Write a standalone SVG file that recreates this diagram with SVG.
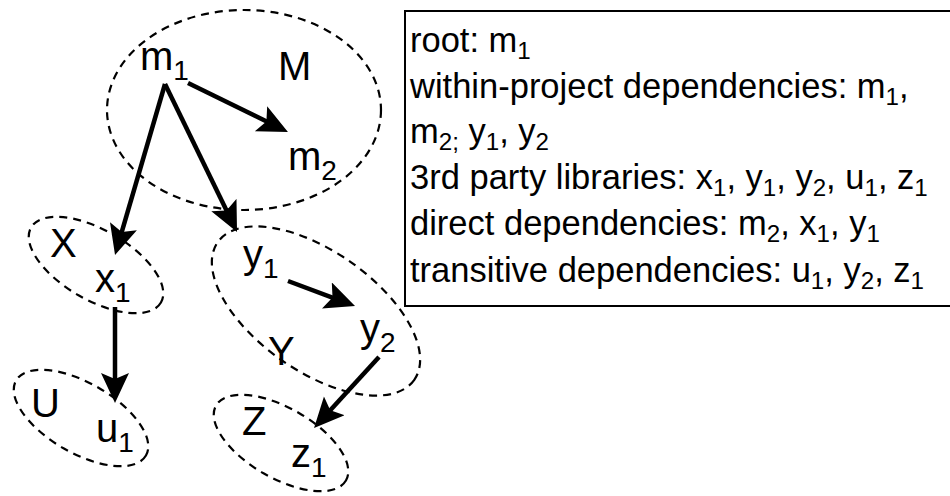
<svg xmlns="http://www.w3.org/2000/svg" width="950" height="496" viewBox="0 0 950 496">
<style>
.grp{fill:none;stroke:#000;stroke-width:2.2;stroke-dasharray:8 6}
.lbl{font-family:"Liberation Sans",Arial,sans-serif;font-size:40px;fill:#000}
.txt{font-family:"Liberation Sans",Arial,sans-serif;font-size:34.5px;fill:#000}
.s{font-size:70%}
.edge{stroke:#000;stroke-width:4.5;fill:none;marker-end:url(#ah)}
</style>
<defs>
<marker id="ah" markerUnits="userSpaceOnUse" markerWidth="32" markerHeight="30" refX="8" refY="14" orient="auto">
<path d="M0,0 L30,14 L0,28 L6,14 z" fill="#000"/>
</marker>
</defs>
<rect width="950" height="496" fill="#fff"/>
<g id="M">
<ellipse class="grp" cx="244" cy="110" rx="137" ry="100"/>
<text class="lbl" x="278" y="80">M</text>
</g>
<g id="X">
<ellipse class="grp" cx="96" cy="265" rx="75" ry="35" transform="rotate(30 96 265)"/>
<text class="lbl" x="50" y="257">X</text>
</g>
<g id="U">
<ellipse class="grp" cx="81" cy="418" rx="75" ry="35" transform="rotate(30 81 418)"/>
<text class="lbl" x="31" y="417">U</text>
</g>
<g id="Y">
<ellipse class="grp" cx="316" cy="311" rx="120" ry="60" transform="rotate(35 316 311)"/>
<text class="lbl" x="268" y="365">Y</text>
</g>
<g id="Z">
<ellipse class="grp" cx="281" cy="443" rx="75" ry="35" transform="rotate(30 281 443)"/>
<text class="lbl" x="242" y="435">Z</text>
</g>
<g id="m1"><text class="lbl" x="140" y="70">m<tspan class="s" dy="10">1</tspan></text></g>
<g id="m2"><text class="lbl" x="288" y="170">m<tspan class="s" dy="10">2</tspan></text></g>
<g id="x1"><text class="lbl" x="95" y="292">x<tspan class="s" dy="10">1</tspan></text></g>
<g id="u1"><text class="lbl" x="96" y="442">u<tspan class="s" dy="10">1</tspan></text></g>
<g id="y1"><text class="lbl" x="243" y="268">y<tspan class="s" dy="10">1</tspan></text></g>
<g id="y2"><text class="lbl" x="360" y="342">y<tspan class="s" dy="10">2</tspan></text></g>
<g id="z1"><text class="lbl" x="291" y="467">z<tspan class="s" dy="10">1</tspan></text></g>
<g id="connectors">
<line class="edge" x1="188" y1="83" x2="268.2" y2="122.3"/>
<line class="edge" x1="165" y1="84" x2="121.2" y2="233.9"/>
<line class="edge" x1="165" y1="84" x2="227.4" y2="212.2"/>
<line class="edge" x1="115" y1="307" x2="115" y2="381"/>
<line class="edge" x1="288" y1="281" x2="334.4" y2="298.3"/>
<line class="edge" x1="379" y1="357" x2="328.9" y2="411.8"/>
</g>
<g id="legend">
<rect x="405" y="11" width="560" height="295" fill="#fff" stroke="#000" stroke-width="2"/>
<text class="txt" x="410" y="52">root: m<tspan class="s" dy="7">1</tspan></text>
<text class="txt" x="410" y="98">within-project dependencies: m<tspan class="s" dy="7">1</tspan><tspan dy="-7">,</tspan></text>
<text class="txt" x="410" y="143">m<tspan class="s" dy="7">2;</tspan><tspan dy="-7"> y</tspan><tspan class="s" dy="7">1</tspan><tspan dy="-7">, y</tspan><tspan class="s" dy="7">2</tspan></text>
<text class="txt" x="410" y="189">3rd party libraries: x<tspan class="s" dy="7">1</tspan><tspan dy="-7">, y</tspan><tspan class="s" dy="7">1</tspan><tspan dy="-7">, y</tspan><tspan class="s" dy="7">2</tspan><tspan dy="-7">, u</tspan><tspan class="s" dy="7">1</tspan><tspan dy="-7">, z</tspan><tspan class="s" dy="7">1</tspan></text>
<text class="txt" x="410" y="235">direct dependencies: m<tspan class="s" dy="7">2</tspan><tspan dy="-7">, x</tspan><tspan class="s" dy="7">1</tspan><tspan dy="-7">, y</tspan><tspan class="s" dy="7">1</tspan></text>
<text class="txt" x="410" y="282">transitive dependencies: u<tspan class="s" dy="7">1</tspan><tspan dy="-7">, y</tspan><tspan class="s" dy="7">2</tspan><tspan dy="-7">, z</tspan><tspan class="s" dy="7">1</tspan></text>
</g>
</svg>
